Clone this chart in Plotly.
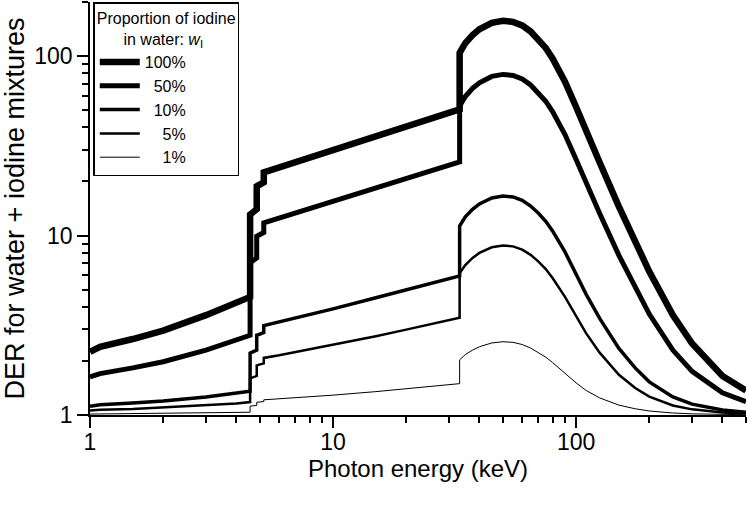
import math
import plotly.graph_objects as go

# Photon energy grid (keV); repeated values mark the iodine L3, L2, L1 and K edges
energy_keV = [1, 1.1, 1.5, 2, 3, 4,
              4.557, 4.557, 4.852, 4.852, 5.188, 5.188,
              6, 8, 10, 15, 20, 30,
              33.17, 33.17,
              35, 37.5, 40, 45, 50, 55, 60, 65, 70, 75,
              80, 90, 100, 110, 125, 150, 175, 200,
              250, 300, 400, 500]

der_100 = [2.25, 2.4, 2.65, 2.95, 3.6, 4.2,
           4.55, 13.1, 14.0, 18.8, 19.8, 22.5,
           24.0, 27.3, 30.0, 36.0, 40.7, 48.5,
           50.5, 104,
           118, 131, 141, 153, 157, 155, 148, 137, 124, 111,
           97, 72, 52, 38, 25.5, 14.5, 9.3, 6.3,
           3.6, 2.5, 1.65, 1.37]

der_50 = [1.63, 1.7, 1.83, 1.98, 2.3, 2.6,
          2.78, 7.05, 7.5, 9.9, 10.4, 11.75,
          12.5, 14.15, 15.5, 18.5, 20.85, 24.75,
          25.75, 52.5,
          59.5, 66, 71, 77, 79, 78, 74.5, 69, 62.5, 56,
          49, 36.5, 26.5, 19.5, 13.25, 7.75, 5.15, 3.65,
          2.3, 1.75, 1.33, 1.185]

der_10 = [1.12, 1.14, 1.165, 1.195, 1.26, 1.32,
          1.355, 2.21, 2.3, 2.78, 2.88, 3.15,
          3.3, 3.63, 3.9, 4.5, 4.97, 5.75,
          5.95, 11.3,
          12.7, 14.0, 15.0, 16.2, 16.6, 16.4, 15.7, 14.6, 13.3, 12.0,
          10.6, 8.1, 6.1, 4.7, 3.45, 2.35, 1.83, 1.53,
          1.26, 1.15, 1.065, 1.037]

der_5 = [1.06, 1.07, 1.08, 1.1, 1.13, 1.16,
         1.18, 1.6, 1.65, 1.89, 1.94, 2.08,
         2.15, 2.32, 2.45, 2.75, 2.99, 3.38,
         3.48, 6.15,
         6.85, 7.5, 8.0, 8.6, 8.8, 8.7, 8.35, 7.8, 7.15, 6.5,
         5.8, 4.55, 3.55, 2.85, 2.225, 1.675, 1.415, 1.265,
         1.13, 1.075, 1.033, 1.019]

der_1 = [1.012, 1.014, 1.016, 1.02, 1.026, 1.032,
         1.036, 1.121, 1.13, 1.178, 1.188, 1.215,
         1.23, 1.263, 1.29, 1.35, 1.397, 1.475,
         1.495, 2.03,
         2.17, 2.3, 2.4, 2.52, 2.56, 2.54, 2.47, 2.36, 2.23, 2.1,
         1.96, 1.71, 1.51, 1.37, 1.245, 1.135, 1.083, 1.053,
         1.026, 1.015, 1.0065, 1.0037]

series_labels = ["100%", "50%", "10%", "5%", "1%"]
legend_names = ["100%", "\u200750%", "\u200710%", "\u2007\u20075%", "\u2007\u20071%"]
series_values = [der_100, der_50, der_10, der_5, der_1]
line_widths = [6.5, 5, 3.5, 2.5, 1]

x_major = [1, 10, 100]
x_major_text = ["1", "10", "100"]
x_minor = [2, 3, 4, 5, 6, 7, 8, 9, 20, 30, 40, 50, 60, 70, 80, 90, 200, 300, 400, 500]
y_major = [1, 10, 100]
y_major_text = ["1", "10", "100"]
y_minor = [2, 3, 4, 5, 6, 7, 8, 9, 20, 30, 40, 50, 60, 70, 80, 90, 200]

x_range = [0, math.log10(500)]
y_range = [0, math.log10(200)]

FONT = "Liberation Sans, Arial, Helvetica, sans-serif"

fig = go.Figure()
for name, vals, w in zip(legend_names, series_values, line_widths):
    fig.add_trace(go.Scatter(x=energy_keV, y=vals, mode="lines", name=name,
                             line=dict(color="black", width=w)))

axis_common = dict(type="log", showgrid=False, zeroline=False, showline=True,
                   linecolor="black", linewidth=1.5, tickcolor="black", tickwidth=1.5,
                   automargin=False)

fig.update_layout(
    width=747, height=505,
    margin=dict(l=90, r=1, t=2, b=90),
    paper_bgcolor="white", plot_bgcolor="white",
    font=dict(family=FONT, color="black", size=23),
    xaxis=dict(**axis_common, range=x_range, tickvals=x_major, ticktext=x_major_text,
               ticks="outside", ticklen=11,
               minor=dict(tickvals=x_minor, ticks="outside", ticklen=6,
                          tickcolor="black", tickwidth=1.5),
               tickfont=dict(size=23), ticklabelstandoff=-5,
               title=dict(text="Photon energy (keV)", font=dict(size=24), standoff=0)),
    yaxis=dict(**axis_common, range=y_range, tickvals=y_major, ticktext=y_major_text,
               ticks="outside", ticklen=11,
               minor=dict(tickvals=y_minor, ticks="outside", ticklen=6,
                          tickcolor="black", tickwidth=1.5),
               tickfont=dict(size=23),
               title=dict(text="DER for water + iodine mixtures", font=dict(size=27), standoff=8)),
    xaxis2=dict(**axis_common, overlaying="x", side="top", anchor="y", range=x_range,
                tickvals=x_major, ticks="inside", ticklen=11, showticklabels=False,
                minor=dict(tickvals=x_minor, ticks="inside", ticklen=6,
                           tickcolor="black", tickwidth=1.5)),
    yaxis2=dict(**axis_common, overlaying="y", side="right", anchor="x", range=y_range,
                tickvals=y_major, ticks="inside", ticklen=11, showticklabels=False,
                minor=dict(tickvals=y_minor, ticks="inside", ticklen=6,
                           tickcolor="black", tickwidth=1.5)),
    legend=dict(x=0.005, y=1, xanchor="left", yanchor="top",
                bordercolor="black", borderwidth=1.5, bgcolor="white",
                font=dict(size=16, family=FONT),
                itemwidth=40, tracegroupgap=0,
                title=dict(text="Proportion of iodine<br>"
                                + "&nbsp;" * 6 + "in water: <i>w</i><sub>I</sub>",
                           side="top", font=dict(size=16, family=FONT))),
    showlegend=True,
)

# remove the default page margin so the 747x505 figure fills the window exactly
fig.write_html("out.html", config={"displayModeBar": False},
               post_script="document.body.style.margin='0';")
